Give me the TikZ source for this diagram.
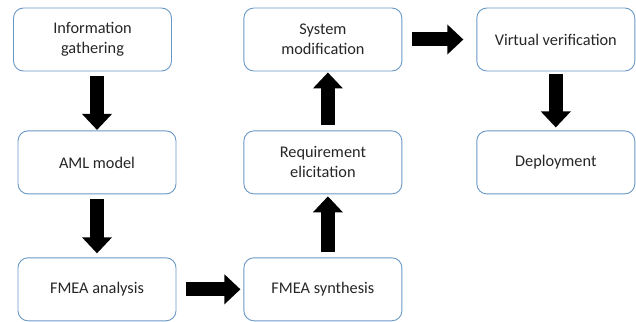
\documentclass[tikz,border=0pt]{standalone}
\usepackage{fontspec}
\setmainfont{Carlito}
\usepackage{tikz}
\usetikzlibrary{arrows.meta,positioning}
\definecolor{boxline}{HTML}{6A98C6}

\begin{document}
\begin{tikzpicture}[
    x=1pt, y=-1pt,
    font=\fontsize{16.3}{20}\selectfont,
    stage/.style={
		rectangle,
		rounded corners=10pt,
		draw=boxline,
		line width=0.9pt,
		text=black!85,
		align=center,
		minimum width=158pt,
		minimum height=63pt,
		inner sep=0pt,
		fill=white
	},
	flow/.style={
		line width=14pt,
		-{Triangle[width=29pt,length=16pt]}
	}
  ]
  \useasboundingbox (0,0) rectangle (636,321);
    % We start by placing the blocks

  \node [stage] (gather) at (92.5,39.5) {Information\\gathering};
  \node [stage, below=59pt of gather, xshift=4.5pt] (aml) {AML model};
  \node [stage, below=63pt of aml] (analysis) {FMEA analysis};
  \node [stage, right=67pt of analysis] (synth) {FMEA synthesis};
  \node [stage, above=63pt of synth] (elicit) {Requirement\\elicitation};
  \node [stage, above=59pt of elicit] (modif) {System\\modification};
  \node [stage, right=74pt of modif] (verif) {Virtual verification};
  \node [stage, below=59pt of verif] (deploy) {Deployment};

 % then the arrows between them
 \draw [flow, shorten <=5pt, shorten >=0.5pt] (aml.north |- gather.south) -- (aml.north);
 \draw [flow, shorten <=5pt, shorten >=4pt] (aml) -- (analysis);
 \draw [flow, shorten <=10pt, shorten >=3pt] (analysis) -- (synth);
 \draw [flow, shorten <=5pt, shorten >=2pt] ([xshift=5pt]synth.north) -- ([xshift=5pt]elicit.south);
 \draw [flow, shorten <=5pt, shorten >=1pt] ([xshift=5pt]elicit.north) -- ([xshift=5pt]modif.south);
 \draw [flow, shorten <=10pt, shorten >=13pt] (modif) -- (verif);
 \draw [flow, shorten <=3pt, shorten >=3pt] (verif) -- (deploy);

\end{tikzpicture}
\end{document}
